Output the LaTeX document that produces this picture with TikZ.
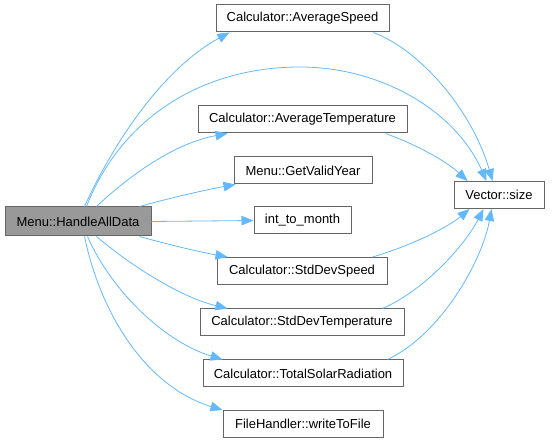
\documentclass[tikz,border=0pt]{standalone}
\usepackage{fontspec}
\setmainfont{Liberation Sans}
\usetikzlibrary{arrows.meta}
\definecolor{edgeblue}{HTML}{63B8FF}
\definecolor{boxborder}{HTML}{666666}
\definecolor{mainfill}{HTML}{999999}
\tikzset{
  fn/.style={draw=boxborder, line width=1pt, fill=white, inner xsep=0pt, inner ysep=0pt,
    minimum height=27pt, font=\fontsize{13}{15.6}\selectfont, text=black},
  mainfn/.style={fn, fill=mainfill, minimum height=29pt},
  edge/.style={draw=edgeblue, line width=0.8pt, -{Triangle[length=12pt,width=9.5pt]}},
}
\begin{document}
\begin{tikzpicture}[x=1pt,y=-1pt]
\useasboundingbox (0,0) rectangle (552,443);
\node[mainfn, minimum width=146pt] (main) at (78,221.5) {Menu::HandleAllData};
\node[fn, minimum width=173pt] (avs) at (302.5,18.5) {Calculator::AverageSpeed};
\node[fn, minimum width=209pt] (avt) at (302.5,119.5) {Calculator::AverageTemperature};
\node[fn, minimum width=138pt] (gvy) at (303,170.5) {Menu::GetValidYear};
\node[fn, minimum width=97pt] (itm) at (302.5,220.5) {int\_to\_month};
\node[fn, minimum width=170pt] (sds) at (302,271) {Calculator::StdDevSpeed};
\node[fn, minimum width=204pt] (sdt) at (302,322.5) {Calculator::StdDevTemperature};
\node[fn, minimum width=200pt] (tsr) at (303,373.5) {Calculator::TotalSolarRadiation};
\node[fn, minimum width=160pt] (wtf) at (303,424) {FileHandler::writeToFile};
\node[fn, minimum width=90pt] (vsz) at (499,195) {Vector::size};

% from main
\draw[edge] ([xshift=80pt]main.north west) .. controls (110,150) and (160,70) .. ([xshift=14pt]avs.south west);
\draw[edge] ([xshift=82pt]main.north west) .. controls (120,120) and (200,67) .. (300,67)
   .. controls (380,67) and (455,110) .. ([xshift=33pt]vsz.north west);
\draw[edge] ([xshift=92pt]main.north west) .. controls (130,175) and (175,143) .. ([xshift=30pt]avt.south west);
\draw[edge] ([xshift=135pt]main.north west) .. controls (170,198) and (205,190) .. ([xshift=2pt]gvy.south west);
\draw[edge] (main.east) -- (itm.west);
\draw[edge] ([xshift=135pt]main.south west) .. controls (170,245) and (200,252) .. ([xshift=11pt]sds.north west);
\draw[edge] ([xshift=92pt]main.south west) .. controls (130,265) and (180,297) .. ([xshift=28pt]sdt.north west);
\draw[edge] ([xshift=83pt]main.south west) .. controls (112,292) and (165,342) .. ([xshift=20pt]tsr.north west);
\draw[edge] ([xshift=80pt]main.south west) .. controls (102,320) and (150,388) .. (wtf.north west);

% into Vector::size
\draw[edge] ([xshift=-16pt]avs.south east) .. controls (420,50) and (472,110) .. ([xshift=39pt]vsz.north west);
\draw[edge] ([xshift=-22pt]avt.south east) .. controls (420,146) and (447,162) .. ([xshift=14pt]vsz.north west);
\draw[edge] ([xshift=-15pt]sds.north east) .. controls (410,246) and (447,228) .. ([xshift=16pt]vsz.south west);
\draw[edge] ([xshift=-22pt]sdt.north east) .. controls (425,290) and (465,245) .. ([xshift=30pt]vsz.south west);
\draw[edge] ([xshift=-16pt]tsr.north east) .. controls (440,335) and (482,262) .. ([xshift=38pt]vsz.south west);
\end{tikzpicture}
\end{document}
